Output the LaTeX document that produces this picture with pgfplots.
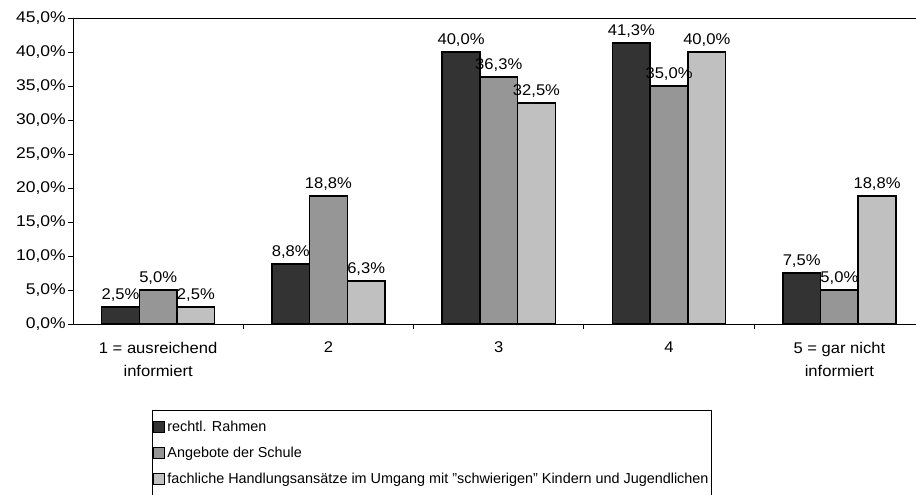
\documentclass[border=0pt]{standalone}
\usepackage{pgfplots}
\pgfplotsset{compat=1.18}
\usepackage{fontspec}
\setmainfont{Liberation Sans}
\newfontfamily\wideA[FakeStretch=1.13]{Liberation Sans}
\newfontfamily\wideB[FakeStretch=1.07]{Liberation Sans}
\definecolor{cA}{HTML}{333333}
\definecolor{cB}{HTML}{969696}
\definecolor{cC}{HTML}{C0C0C0}
\begin{document}
\fontsize{14.4bp}{17bp}\selectfont
\begin{tikzpicture}[x=1bp,y=1bp]
\path[use as bounding box] (-73bp,-171bp) rectangle (843bp,324bp);
\begin{axis}[
  at={(0,0)}, anchor=south west,
  scale only axis, width=843bp, height=306bp,
  /pgf/number format/assume math mode=true,
  font=\fontsize{14.4bp}{17bp}\selectfont,
  ymin=0, ymax=45, ytick={0,5,...,45},
  yticklabel={\pgfmathprintnumber[fixed,fixed zerofill,precision=1,use comma]{\tick}\%},
  yticklabel style={font=\wideA\fontsize{15.5bp}{17bp}\selectfont, inner xsep=2bp},
  xmin=-0.5, xmax=4.45,
  xtick={0,1,2,3,4},
  xticklabels={{1 = ausreichend\\informiert},2,3,4,{5 = gar nicht\\informiert}},
  xticklabel style={align=center, font=\wideB\fontsize{15.5bp}{23bp}\selectfont, yshift=-8bp},
  minor xtick={0.5,1.5,2.5,3.5},
  major x tick style={draw=none},
  tick align=outside,
  major tick length=5bp, minor tick length=5bp,
  axis x line*=bottom, axis y line*=left,
  axis line style={black, line width=0.9bp},
  tick style={black, line width=0.9bp},
  ybar, bar width=37.7bp,
  nodes near coords={\pgfmathprintnumber[fixed,fixed zerofill,precision=1,use comma]{\pgfplotspointmeta}\%},
  every node near coord/.append style={font=\wideB\fontsize{15.5bp}{17bp}\selectfont, inner sep=2bp, yshift=2.5bp},
  legend cell align=left,
  legend style={at={(rel axis cs:0.0937,-0.281)}, anchor=north west, draw=black, line width=0.7bp,
    font=\fontsize{14.4bp}{17bp}\selectfont, row sep=10bp, inner xsep=1bp, inner ysep=9bp,
    nodes={inner ysep=0bp, inner xsep=2bp, text height=12bp, text depth=4bp}},
  legend image code/.code={\draw[#1, line width=1.1bp] (0bp,-5.5bp) rectangle (11bp,5.5bp);},
  clip=false,
]
\addplot[fill=cA, draw=black, line width=1.5bp, bar shift=-37.7bp] coordinates {(0,2.5) (1,8.8) (2,40.0) (3,41.3) (4,7.5)};
\addplot[fill=cB, draw=black, line width=1.5bp, bar shift=0bp] coordinates {(0,5.0) (1,18.8) (2,36.3) (3,35.0) (4,5.0)};
\addplot[fill=cC, draw=black, line width=1.5bp, bar shift=37.7bp] coordinates {(0,2.5) (1,6.3) (2,32.5) (3,40.0) (4,18.8)};
\legend{rechtl. Rahmen, Angebote der Schule, fachliche Handlungsansätze im Umgang mit "schwierigen" Kindern und Jugendlichen}
\draw[black, line width=0.9bp] (rel axis cs:0,1) -- (rel axis cs:1,1);
\end{axis}
\end{tikzpicture}
\end{document}
